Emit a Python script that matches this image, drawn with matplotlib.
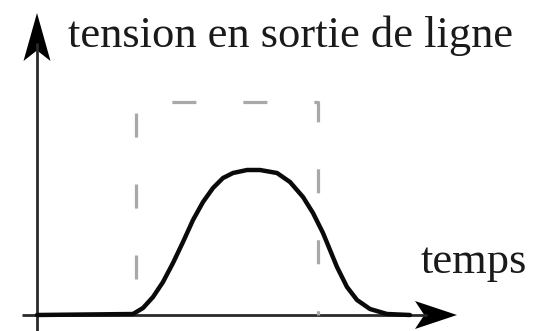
import numpy as np
import matplotlib
matplotlib.use("Agg")
import matplotlib.pyplot as plt
from matplotlib.patches import Polygon
from matplotlib import font_manager

plt.rcParams['lines.scale_dashes'] = False

# pick a Times-like serif file directly
serif_file = None
for f in font_manager.fontManager.ttflist:
    if 'LiberationSerif-Regular' in f.fname:
        serif_file = f.fname
        break
if serif_file is None:
    serif_file = font_manager.findfont(font_manager.FontProperties(family='serif'))
label_font = font_manager.FontProperties(fname=serif_file, size=32)

# line output voltage (time, voltage), arbitrary units
t_curve = [0, 96, 106, 116, 126, 136, 146, 156, 166, 176, 186, 196, 210,
           223, 240, 253, 266, 276, 286, 293, 300, 310, 320, 333, 350, 373]
v_curve = [0, 1, 7, 18, 33, 52, 73, 95, 113, 127, 137, 142, 145,
           145, 142, 133, 118, 102, 82, 65, 48, 28, 15, 6, 1, 0]

# ideal input pulse (dashed)
pulse_on = 99
pulse_off = 281
pulse_height = 213

y_label = "tension en sortie de ligne"
x_label = "temps"

fig = plt.figure(figsize=(5.4, 3.31), dpi=100)
ax = fig.add_axes([0, 0, 1, 1])
ax.set_xlim(-37, 503)
ax.set_ylim(-16, 315)
ax.axis('off')

axis_col = '#2a2a2a'
x_end, y_end = 420, 302

# axes
ax.plot([-15, x_end - 30], [0, 0], color=axis_col, lw=2.0, solid_capstyle='butt')
ax.plot([0, 0], [-16, y_end - 30], color=axis_col, lw=2.0, solid_capstyle='butt')

def stealth(tip, direction, length=44, half=13.5, notch=0.78):
    d = np.array(direction, float)
    n = np.array([-d[1], d[0]])
    tip = np.array(tip, float)
    pts = [tip, tip - length * d + half * n, tip - notch * length * d,
           tip - length * d - half * n]
    ax.add_patch(Polygon(pts, closed=True, color='black', lw=0))

stealth((x_end, 0), (1, 0), length=42, half=14)
stealth((0, y_end), (0, 1), length=48, half=13.5)

# dashed ideal pulse
ax.plot([pulse_on, pulse_on, pulse_off, pulse_off],
        [0, pulse_height, pulse_height, 0],
        color='#a8a8a8', lw=2.3, solid_joinstyle='miter',
        linestyle=(25.2, (17.3, 33.8)), dash_capstyle='butt')

# received signal
ax.plot(t_curve, v_curve, color='#0a0a0a', lw=3.2,
        solid_joinstyle='round', solid_capstyle='round')

ax.text(31, 268, y_label, fontproperties=label_font, color='#1a1a1a',
        va='baseline', ha='left')
ax.text(384, 42, x_label, fontproperties=label_font, color='#1a1a1a',
        va='baseline', ha='left')

fig.savefig('out.png', dpi=100)
